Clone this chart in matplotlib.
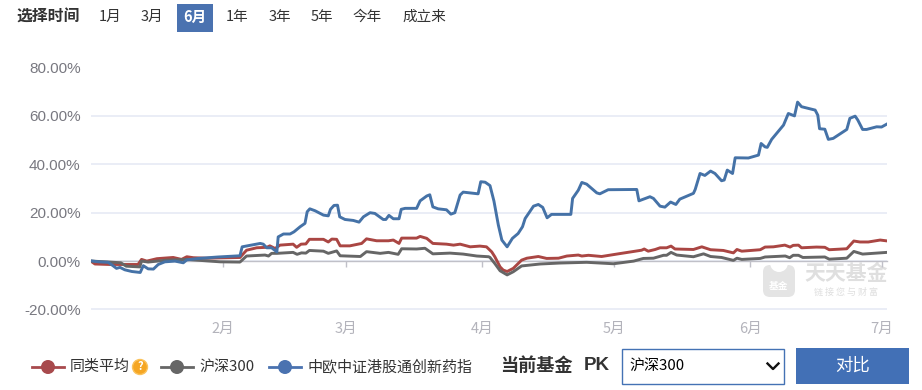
from matplotlib import pyplot as plt
from matplotlib.patches import Circle, FancyBboxPatch, Rectangle, Wedge

plt.rcParams["font.family"] = ["Noto Sans CJK SC", "DejaVu Sans"]

W, H = 922, 390

# day of the year (Jan 1 = 0) and return in percent
blue_days = [1.0, 2.7, 4.9, 6.0, 6.8, 7.6, 8.7, 10.3, 12.2, 12.9, 14.0, 15.2, 16.3, 17.8, 20.1, 22.0, 22.8, 25.4,
             29.9, 34.9, 35.4, 37.2, 39.5, 40.2, 41.0, 42.1, 43.3, 43.6, 44.8, 46.3, 47.2, 48.6, 49.7, 50.2, 50.8,
             52.0, 53.9, 55.0, 55.5, 56.3, 57.1, 57.6, 58.8, 60.7, 62.0, 63.0, 64.5, 65.6, 67.5, 68.1, 68.8, 69.8,
             71.1, 71.6, 72.5, 75.1, 75.9, 77.4, 78.1, 78.8, 80.0, 81.9, 82.9, 83.8, 85.0, 85.7, 89.1, 89.7, 90.7,
             91.8, 92.7, 93.7, 94.5, 95.7, 96.9, 98.2, 99.2, 99.8, 101.7, 102.8, 103.8, 104.8, 105.8, 110.2, 110.6,
             111.9, 112.7, 113.8, 116.1, 116.8, 118.7, 125.2, 125.7, 128.2, 129.0, 130.5, 131.6, 132.9, 134.1,
             135.0, 138.1, 138.5, 139.6, 140.7, 142.0, 143.0, 144.5, 145.1, 145.8, 147.0, 147.6, 150.6, 152.9,
             153.5, 154.4, 154.9, 155.9, 158.6, 159.7, 161.1, 161.8, 162.7, 165.8, 166.4, 166.8, 168.0, 168.8,
             169.9, 173.0, 173.7, 174.9, 175.5, 176.6, 177.5, 179.8, 180.9, 182.1]
blue_vals = [0.1, -0.3, -0.5, -1.9, -3.0, -2.6, -3.6, -4.3, -4.7, -1.9, -3.2, -3.3, -1.4, -0.3, 0.0, -0.7, 0.5, 1.1,
             1.7, 2.2, 5.9, 6.5, 7.3, 7.0, 5.5, 5.5, 3.8, 10.0, 11.2, 11.2, 12.1, 14.2, 15.6, 20.4, 21.6,
             20.8, 19.0, 18.7, 21.4, 23.0, 23.1, 18.3, 17.2, 16.8, 16.1, 18.3, 20.0, 19.7, 17.2, 17.2, 18.9, 17.5,
             17.5, 21.4, 21.8, 21.8, 24.9, 26.9, 27.4, 22.4, 21.6, 21.2, 19.4, 20.0, 27.3, 28.5, 27.8, 32.8, 32.6,
             31.2, 24.8, 14.9, 8.7, 5.9, 9.4, 11.4, 14.2, 17.6, 22.7, 23.4, 22.2, 17.9, 19.3, 19.3, 25.9,
             29.3, 32.5, 31.8, 28.2, 27.8, 29.5, 29.6, 24.9, 26.6, 25.9, 22.7, 22.3, 24.4, 23.4,
             25.6, 28.0, 29.6, 36.2, 35.4, 37.2, 36.2, 33.2, 33.5, 37.6, 36.2, 42.7, 42.6, 43.8,
             48.6, 47.2, 47.0, 50.3, 56.2, 61.0, 60.0, 65.7, 63.8, 62.4, 60.3, 54.7, 54.5, 50.3,
             50.7, 54.4, 59.0, 59.9, 58.3, 54.4, 54.4, 55.5, 55.4, 56.6]

red_days = [1.2, 1.9, 5.3, 11.7, 12.5, 13.7, 16.0, 19.7, 21.6, 22.8, 24.3, 27.3, 34.9, 36.4, 38.7, 41.0, 41.7, 42.9,
            44.0, 47.0, 47.8, 48.8, 49.9, 50.7, 53.9, 55.0, 55.8, 56.9, 57.7, 59.9, 62.6, 63.7, 66.0, 68.7, 69.8,
            71.1, 71.7, 75.1, 75.9, 77.4, 78.8, 81.9, 83.5, 85.0, 87.3, 89.5, 91.0, 92.2, 92.9, 94.1, 94.8, 95.7,
            97.1, 99.0, 100.2, 102.8, 104.7, 107.4, 109.3, 111.9, 112.7, 114.2, 117.2, 121.0, 126.3, 126.9, 127.8,
            129.4, 130.5, 132.0, 133.0, 133.9, 138.1, 140.0, 142.0, 144.9, 147.2, 148.0, 149.1, 153.3, 154.4, 156.3,
            158.9, 160.1, 160.8, 162.0, 162.7, 166.1, 168.0, 169.0, 173.0, 174.6, 176.0, 177.9, 180.6, 181.9]
red_vals = [-0.3, -1.2, -1.4, -1.4, 0.7, 0.0, 1.0, 1.5, 0.7, 1.8, 1.4, 1.2, 1.5, 4.5, 5.5, 5.7, 6.3, 5.2,
            6.6, 7.0, 5.7, 7.0, 7.1, 9.0, 9.0, 7.9, 9.1, 9.0, 6.3, 6.3, 7.3, 9.2, 8.4, 8.4, 8.7,
            7.3, 9.5, 9.5, 10.2, 9.4, 7.3, 7.0, 6.6, 7.0, 5.9, 6.2, 5.9, 3.8, 1.8, -2.4, -3.7, -4.3,
            -3.0, 0.4, 1.2, 1.9, 1.1, 1.2, 2.1, 2.5, 2.1, 2.4, 1.9, 3.0, 4.5, 5.0, 4.1,
            4.8, 5.5, 5.5, 6.2, 5.0, 4.8, 5.9, 4.7, 4.4, 3.4, 4.8, 4.1, 4.7, 5.8, 5.9,
            6.6, 5.8, 6.5, 6.6, 5.5, 5.8, 5.7, 4.7, 5.1, 8.3, 7.9, 7.9, 8.7, 8.4]

grey_days = [1.2, 5.3, 7.8, 9.0, 12.1, 12.5, 14.0, 18.2, 22.8, 27.3, 30.4, 34.9, 36.4, 40.6, 41.4, 42.1, 43.3, 47.0,
             47.9, 48.9, 49.9, 50.7, 53.9, 55.0, 56.9, 57.7, 62.3, 63.7, 66.8, 68.7, 70.9, 71.7, 75.1, 77.0, 78.8,
             82.7, 85.7, 88.8, 91.5, 91.8, 92.9, 94.1, 95.7, 97.1, 99.0, 103.2, 107.7, 113.8, 119.9, 124.5, 126.7,
             129.0, 131.3, 132.0, 133.0, 134.3, 138.1, 140.4, 142.0, 144.5, 147.2, 148.0, 149.1, 153.3, 154.4, 159.0,
             160.0, 160.8, 162.0, 163.0, 168.0, 169.0, 173.0, 174.6, 176.6, 182.1]
grey_vals = [0.0, -0.4, -0.7, -2.1, -2.4, 0.0, -0.4, 0.4, 0.7, 0.1, -0.3, -0.4, 2.1, 2.5, 2.1, 3.2, 3.2, 3.6,
             2.8, 3.4, 3.3, 4.4, 4.1, 3.2, 4.2, 2.2, 1.9, 3.9, 3.2, 3.6, 2.8, 5.1, 5.0, 5.3, 3.0,
             3.3, 2.9, 2.1, 1.8, 1.5, -1.0, -4.0, -5.7, -4.4, -2.0, -1.2, -0.8, -0.5, -1.1, 0.0, 1.1,
             1.2, 2.4, 2.4, 3.6, 2.5, 1.8, 3.0, 1.9, 1.5, 0.3, 1.2, 0.7, 1.1, 1.7, 2.1,
             1.4, 2.4, 2.4, 1.5, 1.7, 0.8, 1.2, 4.0, 2.9, 3.6]

month_days = [31, 59, 90, 120, 151, 181]
month_labels = ["2月", "3月", "4月", "5月", "6月", "7月"]
y_ticks = [-20, 0, 20, 40, 60, 80]
y_labels = ["-20.00%", "0.00%", "20.00%", "40.00%", "60.00%", "80.00%"]
ranges = ["1月", "3月", "6月", "1年", "3年", "5年", "今年", "成立来"]
range_x = [110.5, 152, 195, 237.5, 279.5, 321.5, 367, 424]

RED, GREY, BLUE = "#aa4643", "#666666", "#4572a7"

fig = plt.figure(figsize=(W / 100, H / 100), dpi=100, facecolor="white")

# the page furniture is placed in pixels on a full size layer
ui = fig.add_axes([0, 0, 1, 1])
ui.set_xlim(0, W)
ui.set_ylim(H, 0)
ui.axis("off")

# watermark goes under the chart
ui.add_patch(FancyBboxPatch((767, 269), 24, 24, boxstyle="round,pad=4,rounding_size=7", fc="#e4e4e4", ec="none"))
ui.add_patch(Wedge((779, 263), 9, 0, 180, fc="white", ec="none"))
ui.text(779, 286, "基金", color="white", fontsize=7, fontweight="bold", ha="center", va="center")
ui.text(846, 274, "天天基金", color="#dfdfdf", fontsize=15, fontweight="bold", ha="center", va="center")
ui.text(846, 292, "链 接 您 与 财 富", color="#dfdfdf", fontsize=6.5, ha="center", va="center")

ax = fig.add_axes([91 / W, 1 - 309.5 / H, 796 / W, 242 / H])
ax.patch.set_alpha(0)
ax.set_xlim(1, 182.15)
ax.set_ylim(-20, 80)

ax.plot(red_days, red_vals, color=RED, lw=2.1, zorder=3, solid_joinstyle="round")
ax.plot(grey_days, grey_vals, color=GREY, lw=2.1, zorder=4, solid_joinstyle="round")
ax.plot(blue_days, blue_vals, color=BLUE, lw=2.1, zorder=5, solid_joinstyle="round")

for side in ["top", "left", "right"]:
    ax.spines[side].set_visible(False)
ax.spines["bottom"].set_position(("data", 0))
ax.spines["bottom"].set_color("#c0c0c8")
ax.spines["bottom"].set_linewidth(1)
ax.set_axisbelow(True)
ax.yaxis.grid(True, color="#e4e8f4", lw=1.1)
ax.set_yticks(y_ticks)
ax.set_yticklabels(y_labels, fontsize=11, color="#787880", family="Liberation Sans")
ax.tick_params(axis="y", length=0, pad=7.5)
ax.set_xticks(month_days)
ax.set_xticklabels(month_labels, fontsize=10.5, color="#b3b3bb")
ax.tick_params(axis="x", length=4, width=1, color="#c0c0c8", pad=39.5)

# range selector
ui.text(48.5, 17, "选择时间", fontsize=11.4, fontweight="bold", color="#333333", ha="center", va="center")
ui.add_patch(Rectangle((177, 4), 36, 28, fc="#4a72b0", ec="none"))
for label, x in zip(ranges, range_x):
    if label == "6月":
        ui.text(x, 17, label, fontsize=10.5, fontweight="bold", color="white", ha="center", va="center")
    else:
        ui.text(x, 17, label, fontsize=10.5, color="#333333", ha="center", va="center")

# legend
for x, color, label, tx in [(48, "#a84a4d", "同类平均", 70), (177, GREY, "沪深300", 199),
                            (285, "#4a72b0", "中欧中证港股通创新药指", 307)]:
    ui.plot([x - 16, x + 16], [367, 367], color=color, lw=2)
    ui.add_patch(Circle((x, 367), 7, fc=color, ec="none", zorder=3))
    ui.text(tx, 367, label, fontsize=10.8, color="#333333", ha="left", va="center")
ui.add_patch(Circle((140, 367), 7.5, fc="#f5a623", ec="#fbc35c", lw=1))
ui.text(140, 367, "?", fontsize=8, fontweight="bold", color="white", ha="center", va="center")

# compare controls
ui.text(536.5, 365, "当前基金", fontsize=13.1, fontweight="bold", color="#333333", ha="center", va="center")
ui.text(597, 365, "PK", fontsize=13.5, fontweight="bold", color="#333333", ha="center", va="center",
        family="Liberation Sans")
ui.add_patch(Rectangle((621.5, 348.5), 162, 35.5, fc="white", ec="#4472b4", lw=1))
ui.text(629, 366, "沪深300", fontsize=10.8, color="black", ha="left", va="center")
ui.plot([767.5, 773, 778.5], [363.5, 369, 363.5], color="#111111", lw=1.7)
ui.add_patch(Rectangle((796, 348), 113, 36, fc="#4270b6", ec="none"))
ui.text(852.5, 366, "对比", fontsize=12.5, color="white", ha="center", va="center")

fig.savefig("out.png", dpi=100)
